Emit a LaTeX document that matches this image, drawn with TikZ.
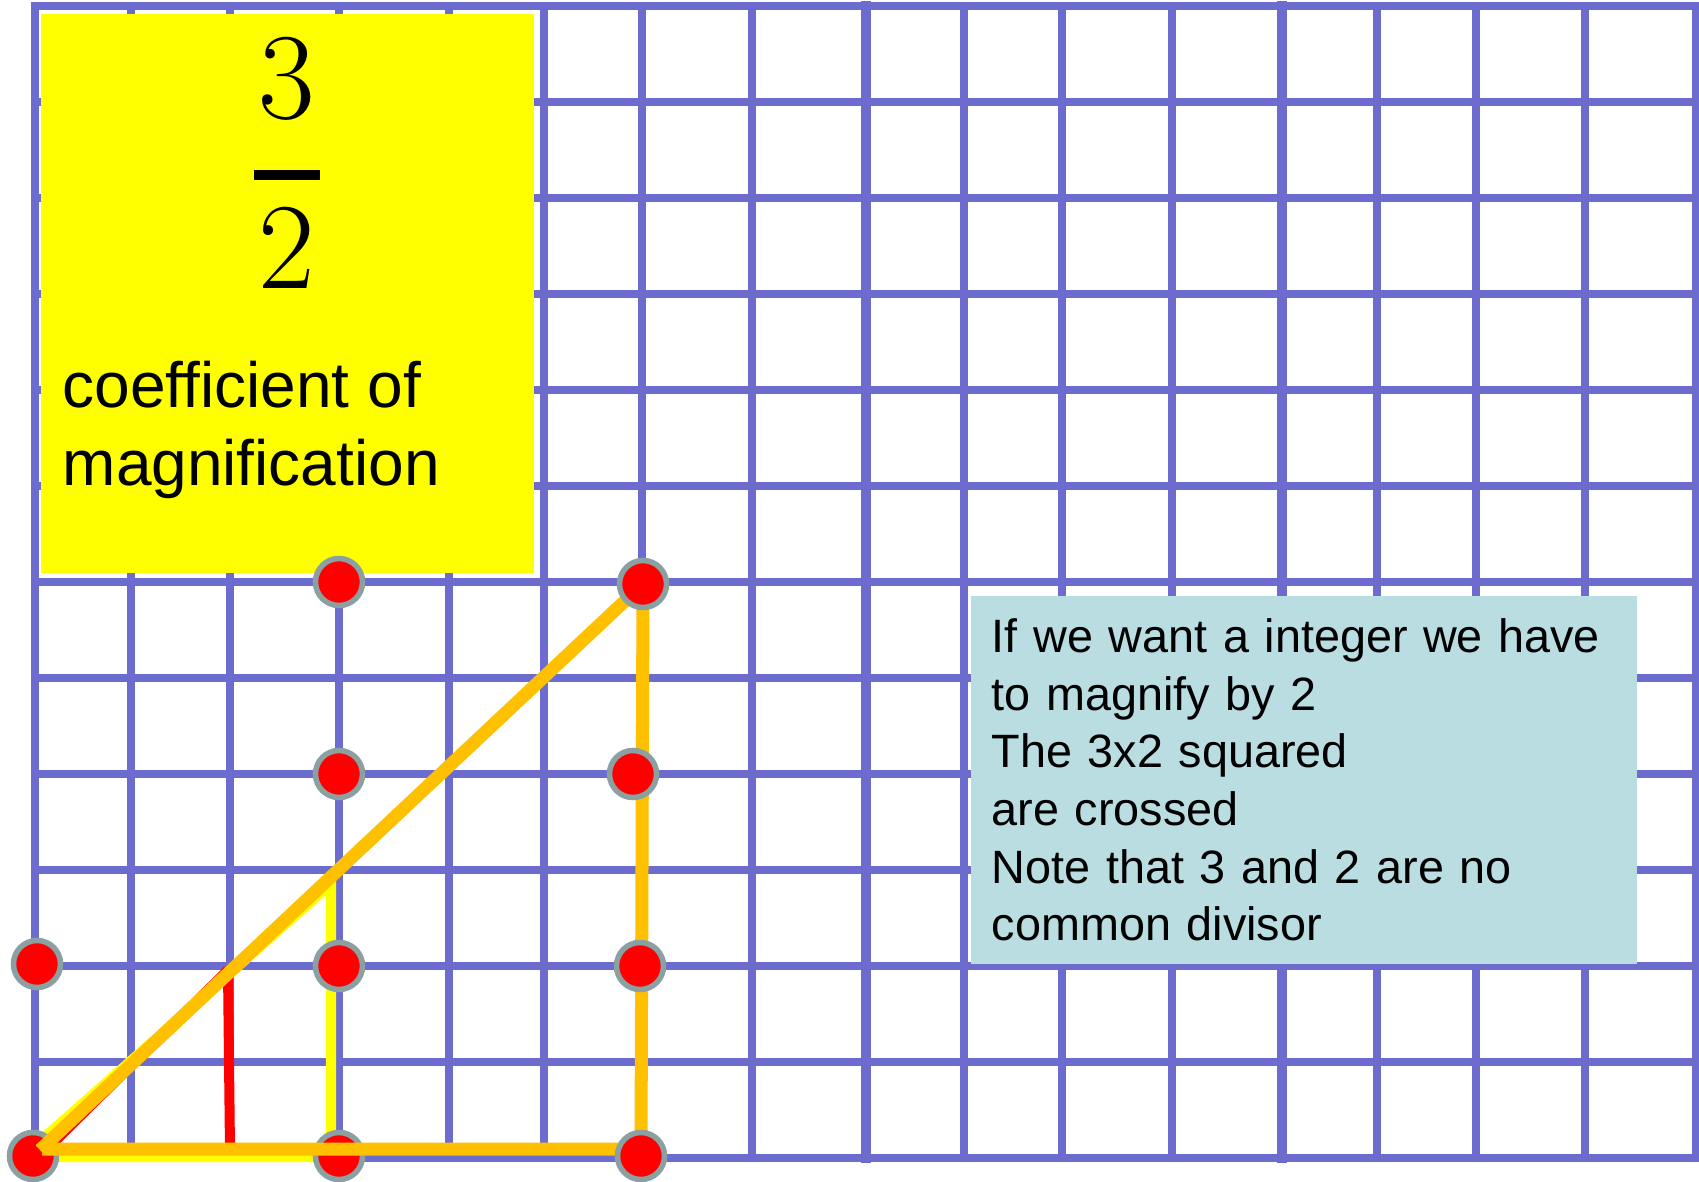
\documentclass[tikz,border=0pt]{standalone}
\usepackage{fontspec}
\newfontfamily\arialfont{Liberation Sans}
\definecolor{gridblue}{RGB}{108,108,206}
\definecolor{boxyellow}{RGB}{255,255,0}
\definecolor{lineorange}{RGB}{255,192,0}
\definecolor{dotred}{RGB}{255,0,0}
\definecolor{dotrim}{RGB}{138,160,162}
\definecolor{noteblue}{RGB}{185,221,225}
\tikzset{
  gridline/.style={draw=gridblue, line width=0.08cm, line cap=rect},
  seamline/.style={draw=gridblue, line width=0.095cm, line cap=rect},
  pin/.style={circle, fill=dotred, draw=dotrim, line width=0.055cm, minimum size=0.47cm, inner sep=0pt},
  redtri/.style={draw=dotred, line width=0.1cm, line join=bevel},
  yellowtri/.style={draw=boxyellow, line width=0.1cm, line join=miter},
  orangeline/.style={draw=lineorange, line width=0.13cm},
  digit/.style={anchor=base, inner sep=0pt, font=\fontsize{35}{40}\selectfont}
}
\begin{document}
\begin{tikzpicture}[x=0.01cm, y=-0.01cm]
\useasboundingbox (0,0) rectangle (1699,1182);
\fill[white] (0,0) rectangle (1699,1182);
% grid
\foreach \gy in {6,102,...,1158} \draw[gridline] (35,\gy) -- (1696,\gy);
\foreach \gx in {35,131,230,339,449,544,642,752,964,1062,1172,1377,1476,1585,1696}
  \draw[gridline] (\gx,6) -- (\gx,1158);
\foreach \gx in {866,1282} \draw[seamline] (\gx,6) -- (\gx,1158);
% yellow box
\node[fill=boxyellow, anchor=north west, minimum width=4.93cm, minimum height=5.59cm, inner sep=0pt] (magbox) at (40,13) {};
\node[digit] (num) at (287,119) {3};
\coordinate (barL) at (254,175);
\coordinate (barR) at (320,175);
\draw[line width=0.1cm] (barL) -- (barR);
\node[digit] (den) at (287,289) {2};
\node[anchor=north west, inner sep=0pt, align=left, font=\arialfont\fontsize{18.2}{22.2}\selectfont] (coef) at (62,360) {coefficient of\\magnification};
% triangles
\coordinate (r1) at (40,1156);
\coordinate (r2) at (228,970);
\coordinate (r3) at (230,1150);
\draw[redtri] (r1) -- (r2) -- (r3) -- cycle;
\coordinate (y1) at (22,1157);
\coordinate (y2) at (331,884);
\coordinate (y3) at (331,1157);
\draw[yellowtri] (y1) -- (y2) -- (y3) -- cycle;
% dots under orange
\node[pin] (pBL) at (33,1156) {};
\node[pin] (pBM) at (339,1156) {};
% orange triangle
\coordinate (o1) at (40,1150);
\coordinate (o2) at (643,584);
\coordinate (o3) at (641,1149);
\draw[orangeline] (o1) -- (o2);
\draw[orangeline, line join=miter] (42,1149) -- (o3) -- (o2);
% dots over orange
\node[pin] (pT1) at (339,582) {};
\node[pin] (pT2) at (643,584) {};
\node[pin] (pM1) at (339,774) {};
\node[pin] (pM2) at (633,774) {};
\node[pin] (pL3) at (37,964) {};
\node[pin] (pM3) at (339,966) {};
\node[pin] (pR3) at (640,966) {};
\node[pin] (pBR) at (641,1156) {};
% note box
\node[fill=noteblue, anchor=north west, minimum width=6.66cm, minimum height=3.68cm, inner xsep=0.21cm, inner ysep=0pt, text width=6.24cm, align=left, font=\arialfont\fontsize{13.3}{16.4}\selectfont] (note) at (970,595) {If we want a integer we have\\to magnify by 2\\The 3x2 squared\\are crossed\\Note that 3 and 2 are no\\common divisor};
\end{tikzpicture}
\end{document}
